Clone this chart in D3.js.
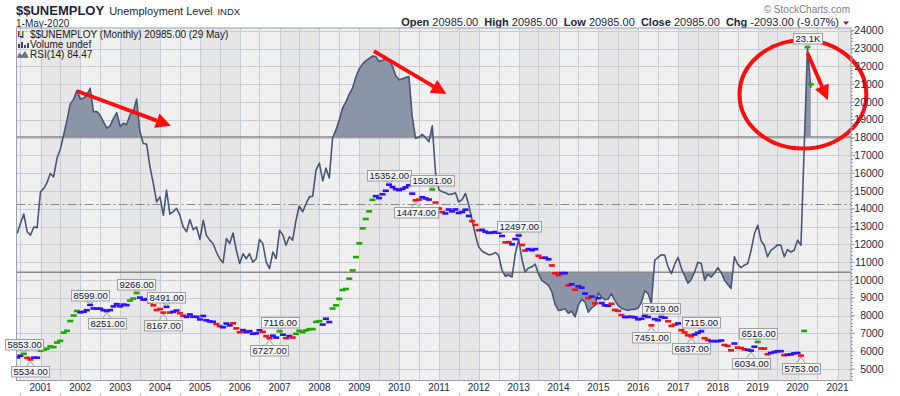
<!DOCTYPE html>
<html>
<head>
<meta charset="utf-8">
<script src="https://cdn.jsdelivr.net/npm/d3@7"></script>
<style>
body { margin: 0; background: #fff; }
svg { display: block; font-family: Arial, "Liberation Sans", sans-serif; }
</style>
</head>
<body>
<div id="chart"></div>
<script>
(function(){
var width = 900,
    height = 396;

// plot box (pixels)
var plot = { left: 16.5, right: 851, top: 28, bottom: 380.5 };

var symbol = '$$UNEMPLOY';
var title = 'Unemployment Level';
var lastDate = '1-May-2020';

// monthly values, Jun 2000 .. May 2020 (thousands)
var unemploy = [
  5651, 5747, 5853, 5625, 5534, 5639, 5634,
  6023, 6089, 6141, 6271, 6226, 6484, 6583, 7042, 7142, 7694, 8003, 8258,
  8182, 8215, 8304, 8599, 8399, 8393, 8390, 8304, 8251, 8307, 8520, 8640,
  8520, 8618, 8588, 8842, 8957, 9266, 9011, 8896, 8921, 8732, 8576, 8317,
  8370, 8167, 8491, 8170, 8212, 8286, 8136, 7990, 7927, 8061, 7932, 7934,
  7784, 7980, 7737, 7672, 7651, 7524, 7406, 7345, 7553, 7453, 7566, 7279,
  7064, 7184, 7072, 7120, 6980, 7001, 7175, 7091, 6847, 6727, 6872, 6762,
  7116, 6927, 6731, 6850, 6766, 6979, 7149, 7067, 7170, 7237, 7240, 7645,
  7685, 7497, 7822, 7637, 8395, 8575, 8937, 9438, 9494, 10074, 10538, 11286,
  12058, 12898, 13426, 13853, 14499, 14707, 14601, 14814, 15009, 15352, 15219, 15098,
  15046, 15113, 15202, 15325, 14849, 14474, 14512, 14648, 14579, 14516, 15081, 14348,
  14013, 13820, 13737, 13957, 13855, 13962, 13763, 13818, 13948, 13594, 13302, 13093,
  12797, 12813, 12713, 12646, 12660, 12692, 12656, 12471, 12115, 12124, 12005, 12298,
  12497, 11967, 11653, 11735, 11671, 11736, 11357, 11241, 11251, 11161, 10814, 10376,
  10280, 10387, 10384, 9696, 9761, 9453, 9648, 9568, 9237, 8983, 9071, 8688,
  8979, 8705, 8575, 8549, 8660, 8316, 8266, 8029, 7915, 7927, 7932, 7904,
  7791, 7822, 7991, 7921, 7451, 7800, 7740, 7919, 7880, 7680, 7420, 7490,
  7560, 7180, 7050, 6900, 6837, 6940, 7030, 7115, 6730, 6630, 6560, 6570,
  6560, 6600, 6350, 6300, 6050, 6430, 6200, 6180, 6100, 6080, 6034, 6250,
  6516, 6150, 6150, 5830, 5900, 5950, 6000, 6000, 5780, 5800, 5820, 5880,
  5900, 5753, 7140, 23078, 20985
];

// bar colour per month: g = green, r = red, b = blue
var impulse = (
  'bbgrrbb' +
  'gggggggggggg' + 'bbbbbbbbbbbb' + 'bbbgggbbbrrr' + 'rrbrbbrrbbbb' +
  'bbbbbrrbbbrr' + 'rbbbbbbrrrbb' + 'gbrbrggggggg' + 'gbbbgggggggg' +
  'gggggbbbbbbb' + 'bbbbbrrbbbgr' + 'rrbbbbbbbbrr' + 'rbbbbbbbrrbb' +
  'brrbbbrrbbrr' + 'rbbrbrbbbrbr' + 'bbbbrrrrbbbb' + 'bbbbrbbbbrrr' +
  'brrrrbbbrrbb' + 'bbrrrbrrrbbb' + 'grrrbbbbrbbb' +
  'brggg').split('');

// RSI(14)
var rsi14 = [
  41.5, 44.4, 47.2, 42, 41, 43.4, 43.2,
  53.8, 54.8, 56.5, 59.2, 58.2, 63.7, 66.3, 70.6, 75, 79.8, 81.2, 83.7,
  81.2, 81.5, 82.4, 84.4, 77.5, 77.5, 76.5, 74.5, 72.6, 73.3, 75.5, 77.2,
  73.1, 74.1, 73.6, 76.5, 77.5, 81.2, 71.6, 68.1, 67.9, 61.2, 56.3, 50.8,
  52.3, 46.9, 54.3, 47.2, 47.9, 48.9, 46.9, 43.4, 42, 45.6, 42.6, 43.4,
  39.7, 45.4, 41, 39.5, 38.5, 36, 34, 32.8, 40, 38.5, 41.6, 36.5,
  32.6, 35.5, 34, 35.5, 33, 34, 39.7, 38.5, 33, 31.1, 36, 34,
  42.4, 41, 38, 40.5, 39.5, 45.4, 49.6, 47.9, 50.3, 52.3, 52.5, 60.2,
  62.3, 57, 60.8, 57.9, 69.7, 72.1, 75, 78.6, 80.4, 82.7, 84.5, 87.8,
  90.2, 91.6, 92.5, 93.2, 93.9, 93.8, 92.3, 92.7, 92.9, 92.9, 90.9, 88.1,
  86.9, 87.2, 87.6, 87.9, 76, 69.6, 69.9, 70.8, 69.8, 68.6, 73.3, 59.2,
  54.3, 53.8, 53.5, 53, 53.1, 53.5, 50.8, 51.5, 53.3, 49.9, 45.4, 41,
  37.5, 36.2, 35.7, 35.2, 35.3, 35.9, 35, 30.6, 28.8, 29.1, 28.6, 35.5,
  39.7, 33.6, 30.1, 31.3, 31.6, 32.4, 29.6, 27.6, 26.9, 26.1, 24.2, 20.5,
  18.7, 18.9, 19.2, 17.9, 18.5, 16.8, 20.2, 22, 21.2, 18.2, 19.5, 20.2,
  23.9, 22.7, 21.9, 22.1, 23.7, 21.7, 20.2, 19.4, 19, 18.7, 19.1, 19,
  19.5, 21.2, 24.5, 23.7, 20.7, 33.6, 34.4, 35.2, 35, 31.6, 29.6, 32.4,
  34.4, 31.1, 29.1, 26.8, 27.8, 30.1, 33, 32.6, 27.6, 29.4, 28.6, 29.8,
  31.4, 29.8, 27.8, 26.4, 25.2, 34.6, 32.4, 31.4, 32.1, 32.6, 36.5, 41.3,
  43.9, 39.3, 38, 34.6, 36.5, 37.2, 38.1, 38, 34.6, 36.7, 36, 36.5,
  39.5, 38, 66, 96.5, 84.47
];

var yTicks = [5000, 6000, 7000, 8000, 9000, 10000, 11000, 12000, 13000, 14000, 15000,
              16000, 17000, 18000, 19000, 20000, 21000, 22000, 23000, 24000];
var yearTicks = [2001, 2002, 2003, 2004, 2005, 2006, 2007, 2008, 2009, 2010, 2011,
                 2012, 2013, 2014, 2015, 2016, 2017, 2018, 2019, 2020, 2021];

// swing labels: month, placement
var callouts = [
  ['2000-08', 'up'], ['2000-10', 'down'], ['2002-04', 'up'], ['2002-09', 'down'],
  ['2003-06', 'up'], ['2004-03', 'up'], ['2004-02', 'down'], ['2007-01', 'up'],
  ['2006-10', 'down'], ['2009-10', 'up'], ['2010-11', 'up'], ['2010-06', 'down'],
  ['2013-01', 'up'], ['2016-08', 'up'], ['2016-05', 'down'], ['2017-08', 'up'],
  ['2017-05', 'down'], ['2019-01', 'up'], ['2018-11', 'down'], ['2020-02', 'down'],
  ['2020-04', 'up']
];

// hand drawn red marks, in date / RSI terms
var arrows = [
  { from: ['2001-12-01', 83.6], to: ['2004-04-10', 73.3] },
  { from: ['2009-05-15', 95.4], to: ['2011-03-10', 82.7] },
  { from: ['2020-04-01', 94.8], to: ['2020-10-05', 80.9] }
];
var ring = { center: ['2020-02-19', 82.6], left: '2018-07-18', top: 98.6 };

var colors = { g: '#1fa800', r: '#f01414', b: '#2d10ff' };

var months = d3.timeMonth.range(new Date(2000, 5, 1), new Date(2020, 5, 1));
var data = months.map(function(m, i) {
  return { date: m, value: unemploy[i], color: impulse[i], rsi: rsi14[i] };
});
var parseDay = d3.timeParse('%Y-%m-%d');

var x = d3.scaleTime()
  .domain([new Date(2001, 0, 1), new Date(2021, 0, 1)])
  .range([40.5, 837.5]);
var y = d3.scaleLinear().domain([5000, 24000]).range([369, 30.7]);
var yRsi = d3.scaleLinear().domain([30, 70]).range([272.3, 137]);

var svg = d3.select('#chart')
  .append('svg')
  .attr('width', width)
  .attr('height', height);

var defs = svg.append('defs');
defs.append('clipPath').attr('id', 'plotClip')
  .append('rect')
  .attr('x', plot.left).attr('y', plot.top)
  .attr('width', plot.right - plot.left).attr('height', plot.bottom - plot.top);
defs.append('clipPath').attr('id', 'aboveClip')
  .append('rect')
  .attr('x', plot.left).attr('y', plot.top)
  .attr('width', plot.right - plot.left).attr('height', yRsi(70) - plot.top);
defs.append('clipPath').attr('id', 'belowClip')
  .append('rect')
  .attr('x', plot.left).attr('y', yRsi(30))
  .attr('width', plot.right - plot.left).attr('height', plot.bottom - yRsi(30));

// ---------- header ----------
var head = svg.append('g').attr('fill', '#1b2540');
var sym = head.append('text')
  .attr('x', 16).attr('y', 14.5)
  .style('font-weight', 'bold').style('font-size', '13px')
  .text(symbol);
var symW = sym.node().getComputedTextLength();
var ttl = head.append('text')
  .attr('x', 16 + symW + 5).attr('y', 14.5)
  .style('font-size', '11px')
  .text(title);
head.append('text')
  .attr('x', 16 + symW + 5 + ttl.node().getComputedTextLength() + 5).attr('y', 14.5)
  .style('font-size', '9.5px')
  .text('INDX');
head.append('text')
  .attr('x', 16).attr('y', 26.5)
  .style('font-size', '10px')
  .text(lastDate);

var last = unemploy[unemploy.length - 1];
var prev = unemploy[unemploy.length - 2];
var chg = last - prev;
var quote = [
  ['Open', last.toFixed(2)], ['High', last.toFixed(2)], ['Low', last.toFixed(2)],
  ['Close', last.toFixed(2)], ['Chg', chg.toFixed(2) + ' (' + (chg / prev * 100).toFixed(2) + '%)']
];
var q = head.append('text')
  .attr('x', 839).attr('y', 26)
  .attr('text-anchor', 'end')
  .attr('xml:space', 'preserve')
  .style('font-size', '11px');
quote.forEach(function(p, i) {
  q.append('tspan').style('font-weight', 'bold').text((i ? '  ' : '') + p[0]);
  q.append('tspan').text(' ' + p[1]);
});
svg.append('path')
  .attr('d', 'M843,21.5 L849,21.5 L846,25 Z')
  .attr('fill', '#8b1538');
svg.append('text')
  .attr('x', 850).attr('y', 13)
  .attr('text-anchor', 'end')
  .style('font-size', '10px')
  .attr('fill', '#808080')
  .text('\u00a9 StockCharts.com');

// ---------- plot background ----------
var g = svg.append('g').attr('clip-path', 'url(#plotClip)');
g.append('rect')
  .attr('x', plot.left).attr('y', plot.top)
  .attr('width', plot.right - plot.left).attr('height', plot.bottom - plot.top)
  .attr('fill', '#f0f0f0');

g.selectAll('rect.band')
  .data(yearTicks.filter(function(yr) { return yr % 2 === 1; }))
  .enter().append('rect')
  .attr('class', 'band')
  .attr('x', function(yr) { return x(new Date(yr, 0, 1)); })
  .attr('y', plot.top)
  .attr('width', function(yr) { return x(new Date(yr + 1, 0, 1)) - x(new Date(yr, 0, 1)); })
  .attr('height', plot.bottom - plot.top)
  .attr('fill', '#e6e6e6');

var halfYears = d3.timeMonth.every(6).range(new Date(2000, 6, 1), new Date(2021, 3, 1));
g.selectAll('line.vgrid')
  .data(halfYears)
  .enter().append('line')
  .attr('class', 'vgrid')
  .attr('x1', function(d) { return Math.round(x(d)) + 0.5; })
  .attr('x2', function(d) { return Math.round(x(d)) + 0.5; })
  .attr('y1', plot.top).attr('y2', plot.bottom)
  .attr('stroke', '#c6cdd8').attr('stroke-width', 1);

g.selectAll('line.hgrid')
  .data(yTicks)
  .enter().append('line')
  .attr('class', 'hgrid')
  .attr('x1', plot.left).attr('x2', plot.right)
  .attr('y1', function(d) { return Math.round(y(d)) + 0.5; })
  .attr('y2', function(d) { return Math.round(y(d)) + 0.5; })
  .attr('stroke', '#c6cdd8').attr('stroke-width', 1);

// ---------- RSI ----------
var rsiArea = d3.area()
  .x(function(d) { return x(d.date); })
  .y1(function(d) { return yRsi(d.rsi); });

g.append('g').attr('clip-path', 'url(#aboveClip)')
  .append('path')
  .datum(data)
  .attr('d', rsiArea.y0(yRsi(70)))
  .attr('fill', '#8c94a8');
g.append('g').attr('clip-path', 'url(#belowClip)')
  .append('path')
  .datum(data)
  .attr('d', rsiArea.y0(yRsi(30)))
  .attr('fill', '#8c94a8');

[70, 30].forEach(function(lv) {
  g.append('line')
    .attr('x1', plot.left).attr('x2', plot.right)
    .attr('y1', yRsi(lv)).attr('y2', yRsi(lv))
    .attr('stroke', '#8a8a8a').attr('stroke-width', 1.5);
});
g.append('line')
  .attr('x1', plot.left).attr('x2', plot.right)
  .attr('y1', Math.round(yRsi(50)) - 0.5).attr('y2', Math.round(yRsi(50)) - 0.5)
  .attr('stroke', '#8a8a8a').attr('stroke-width', 1)
  .attr('stroke-dasharray', '9,3,2,3');

g.append('path')
  .datum(data)
  .attr('d', d3.line()
    .x(function(d) { return x(d.date); })
    .y(function(d) { return yRsi(d.rsi); }))
  .attr('fill', 'none')
  .attr('stroke', '#4a5677')
  .attr('stroke-width', 1.6)
  .attr('stroke-linejoin', 'round');

// ---------- price bars ----------
g.selectAll('rect.bar')
  .data(data)
  .enter().append('rect')
  .attr('class', 'bar')
  .attr('x', function(d) { return x(d.date) - 3; })
  .attr('y', function(d) { return y(d.value) - 1.3; })
  .attr('width', 6)
  .attr('height', 2.6)
  .attr('fill', function(d) { return colors[d.color]; });

// ---------- legend in plot ----------
var leg = svg.append('g').style('font-size', '10px').attr('fill', '#1a1a1a');
leg.append('text').attr('x', 30).attr('y', 37.5)
  .text(symbol + ' (Monthly) ' + last.toFixed(2) + ' (29 May)');
leg.append('text').attr('x', 30).attr('y', 47.5).text('Volume undef');
leg.append('text').attr('x', 30).attr('y', 57.5)
  .text('RSI(14) ' + rsi14[rsi14.length - 1].toFixed(2));
// little icons
leg.append('rect').attr('x', 18).attr('y', 31).attr('width', 1.5).attr('height', 6).attr('fill', '#e01010');
leg.append('rect').attr('x', 22).attr('y', 31).attr('width', 1.5).attr('height', 7).attr('fill', '#18a000');
leg.append('rect').attr('x', 20).attr('y', 36).attr('width', 3).attr('height', 1.5).attr('fill', '#2d10ff');
[[18, 44, 4], [21, 42, 6], [24, 45, 3], [27, 43, 5]].forEach(function(b) {
  leg.append('rect').attr('x', b[0]).attr('y', b[1]).attr('width', 2).attr('height', b[2]).attr('fill', '#404a60');
});
leg.append('path').attr('d', 'M17,58 L19,53 L22,55 L25,51 L28,56 L28,58 Z')
  .attr('fill', '#6b7590');

// ---------- hand drawn annotation ----------
var red = svg.append('g');
arrows.forEach(function(a) {
  var x1 = x(parseDay(a.from[0])), y1 = yRsi(a.from[1]);
  var x2 = x(parseDay(a.to[0])), y2 = yRsi(a.to[1]);
  var ang = Math.atan2(y2 - y1, x2 - x1);
  var L = 15, W = 7.5;
  var bx = x2 - L * Math.cos(ang), by = y2 - L * Math.sin(ang);
  red.append('line')
    .attr('x1', x1).attr('y1', y1).attr('x2', bx).attr('y2', by)
    .attr('stroke', '#ff0d0d').attr('stroke-width', 3.8);
  red.append('path')
    .attr('d', 'M' + x2 + ',' + y2 +
      ' L' + (bx + W * Math.sin(ang)) + ',' + (by - W * Math.cos(ang)) +
      ' L' + (bx - W * Math.sin(ang)) + ',' + (by + W * Math.cos(ang)) + ' Z')
    .attr('fill', '#ff0d0d');
});
var cx = x(parseDay(ring.center[0])), cy = yRsi(ring.center[1]);
red.append('ellipse')
  .attr('cx', cx).attr('cy', cy)
  .attr('rx', cx - x(parseDay(ring.left)))
  .attr('ry', cy - yRsi(ring.top))
  .attr('fill', 'none')
  .attr('stroke', '#ff0d0d').attr('stroke-width', 4);

// ---------- frame & axes ----------
svg.append('rect')
  .attr('x', plot.left).attr('y', plot.top)
  .attr('width', plot.right - plot.left).attr('height', plot.bottom - plot.top)
  .attr('fill', 'none').attr('stroke', '#97a1b0').attr('stroke-width', 1);

// ---------- swing labels (on top, not clipped) ----------
var byMonth = {};
data.forEach(function(d) { byMonth[d3.timeFormat('%Y-%m')(d.date)] = d; });

var lab = svg.append('g').selectAll('g.callout')
  .data(callouts)
  .enter().append('g')
  .attr('class', 'callout');

lab.each(function(c) {
  var d = byMonth[c[0]];
  var px = x(d.date), py = y(d.value);
  var txt = d.value >= 20000 ? (d.value / 1000).toFixed(1) + 'K' : d.value.toFixed(2);
  var el = d3.select(this);
  var t = el.append('text')
    .style('font-size', '9.5px')
    .attr('fill', '#13203a')
    .text(txt);
  var w = t.node().getComputedTextLength() + 4;
  var h = 10.5;
  var boxTop = c[1] === 'up' ? py - 4 - h : py + 7;
  var edge = c[1] === 'up' ? boxTop + h : boxTop;
  var tip = c[1] === 'up' ? py - 1.5 : py + 1.5;
  el.insert('path', 'text')
    .attr('d', 'M' + (px - 4) + ',' + edge + ' L' + px + ',' + tip + ' L' + (px + 4) + ',' + edge)
    .attr('fill', 'none').attr('stroke', '#a0a0a0').attr('stroke-width', 1);
  el.insert('rect', 'text')
    .attr('x', Math.round(px - w / 2) + 0.5).attr('y', Math.round(boxTop) + 0.5)
    .attr('width', Math.round(w)).attr('height', h)
    .attr('fill', '#f4f4f4').attr('stroke', '#a0a0a0').attr('stroke-width', 1);
  t.attr('x', Math.round(px - w / 2) + 2.5).attr('y', Math.round(boxTop) + 9);
});

var minor = d3.range(4400, 24200, 200);
svg.selectAll('line.minor')
  .data(minor)
  .enter().append('line')
  .attr('x1', plot.right).attr('x2', plot.right + 2)
  .attr('y1', function(d) { return Math.round(y(d)) + 0.5; })
  .attr('y2', function(d) { return Math.round(y(d)) + 0.5; })
  .attr('stroke', '#97a1b0');

var yAx = svg.selectAll('g.ytick')
  .data(yTicks)
  .enter().append('g')
  .attr('transform', function(d) { return 'translate(0,' + y(d) + ')'; });
yAx.append('line')
  .attr('x1', plot.right).attr('x2', plot.right + 4)
  .attr('stroke', '#97a1b0');
yAx.append('text')
  .attr('x', 883.5).attr('dy', '0.35em')
  .attr('text-anchor', 'end')
  .style('font-size', '10.5px')
  .attr('fill', '#1c2a48')
  .text(function(d) { return d; });

svg.selectAll('text.year')
  .data(yearTicks)
  .enter().append('text')
  .attr('x', function(yr) { return x(new Date(yr, 0, 1)); })
  .attr('y', 391)
  .attr('text-anchor', 'middle')
  .style('font-size', '10px')
  .attr('fill', '#1c2a48')
  .text(function(d) { return d; });

svg.selectAll('rect.xtick')
  .data(halfYears.filter(function(d) { return d.getMonth() === 6; }))
  .enter().append('rect')
  .attr('x', function(d) { return Math.round(x(d)); })
  .attr('y', 393).attr('width', 1).attr('height', 2)
  .attr('fill', '#b0b6c0');
})()
</script>
</body>
</html>
